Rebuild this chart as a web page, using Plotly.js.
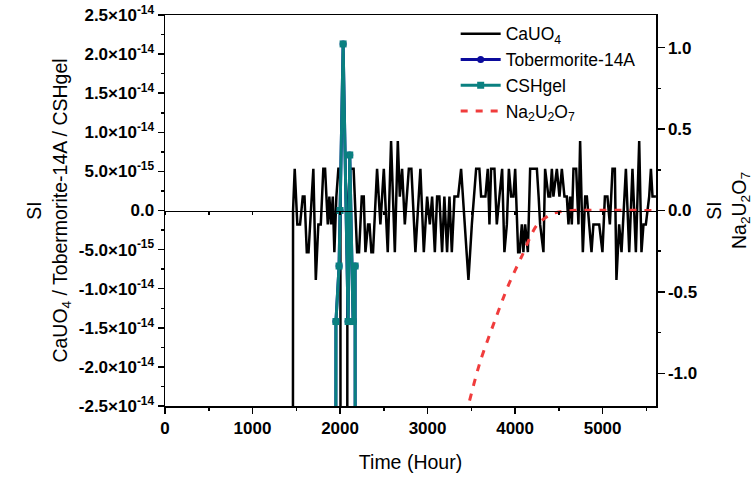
<!DOCTYPE html>
<html>
<head>
<meta charset="utf-8">
<script src="https://cdn.plot.ly/plotly-3.0.1.min.js"></script>
<style>html,body{margin:0;padding:0;background:#fff;}#chart{width:753px;height:477px;}</style>
</head>
<body>
<div id="chart"></div>
<script>
// ---- data ----
const caTime = [1420,1463,1482,1512,1543,1574,1594,1620,1640,1695,1723,1752,1780,1809,1829,1860,1878,1897,1917,1935,1958,1981,2004,2040,2084,2115,2155,2195,2217,2248,2271,2290,2320,2337,2358,2377,2423,2461,2500,2545,2583,2626,2660,2683,2709,2740,2786,2815,2861,2918,2957,2995,3026,3052,3083,3109,3135,3166,3192,3223,3250,3277,3307,3349,3383,3421,3467,3506,3528,3555,3592,3612,3661,3688,3707,3726,3764,3791,3821,3852,3878,3906,3929,3955,3981,4001,4035,4052,4077,4095,4115,4146,4172,4249,4269,4286,4324,4343,4381,4401,4420,4438,4477,4507,4534,4564,4591,4610,4629,4648,4667,4698,4724,4743,4774,4801,4820,4846,4873,4895,4961,4998,5026,5055,5083,5113,5140,5158,5189,5216,5266,5304,5341,5380,5418,5444,5467,5494,5532,5552,5570,5609];
const caSI = [-1e-12,0,5.33e-15,-1.78e-15,-1.78e-15,1.78e-15,1.78e-15,-5.33e-15,-5.33e-15,5.33e-15,-8.88e-15,-1.78e-15,-1.78e-15,5.33e-15,5.33e-15,-1.78e-15,1.78e-15,-1.78e-15,1.78e-15,-5.33e-15,1.78e-15,5.33e-15,5.33e-15,-1e-12,0,5.33e-15,5.33e-15,-5.33e-15,-5.33e-15,1.78e-15,1.78e-15,-5.33e-15,-1.78e-15,-1.78e-15,-5.33e-15,-5.33e-15,5.33e-15,-1.78e-15,5.33e-15,-5.33e-15,8.88e-15,-5.33e-15,8.88e-15,1.78e-15,5.33e-15,-1.78e-15,5.33e-15,5.33e-15,-5.33e-15,5.33e-15,-5.33e-15,1.78e-15,-1.78e-15,1.78e-15,-5.33e-15,1.78e-15,1.78e-15,-5.33e-15,1.78e-15,-5.33e-15,1.78e-15,-5.33e-15,1.78e-15,1.78e-15,5.33e-15,-1.78e-15,-8.88e-15,-1.78e-15,1.78e-15,5.33e-15,5.33e-15,1.78e-15,1.78e-15,5.33e-15,-1.78e-15,5.33e-15,5.33e-15,-1.78e-15,1.78e-15,5.33e-15,-5.33e-15,-1.78e-15,5.33e-15,1.78e-15,1.78e-15,5.33e-15,-5.33e-15,-5.33e-15,-1.78e-15,-5.33e-15,-1.78e-15,-5.33e-15,5.33e-15,5.33e-15,1.78e-15,-1.78e-15,-5.33e-15,5.33e-15,1.78e-15,1.78e-15,5.33e-15,1.78e-15,5.33e-15,1.78e-15,5.33e-15,1.78e-15,1.78e-15,-1.78e-15,1.78e-15,-1.78e-15,5.33e-15,5.33e-15,-1.78e-15,8.88e-15,-5.33e-15,1.78e-15,1.78e-15,-1.78e-15,-5.33e-15,-1.78e-15,-1.78e-15,-5.33e-15,1.78e-15,1.78e-15,-1.78e-15,5.33e-15,5.33e-15,-8.88e-15,-1.78e-15,-5.33e-15,5.33e-15,-5.33e-15,5.33e-15,-5.33e-15,8.88e-15,-5.33e-15,-1.78e-15,-1.78e-15,1.78e-15,5.33e-15,1.78e-15,1.78e-15];

const tobTime = [1900,1953,1989,2000,2035,2092,2111,2149,2172,2220];
const tobSI   = [-1e-12,-1.42e-14,-7.1e-15,0,2.13e-14,-1.42e-14,7.1e-15,-1.42e-14,-7.1e-15,-1e-12];

const cshTime = [1900,1953,1989,2000,2035,2092,2111,2149,2172,2220];
const cshSI   = [-1e-12,-1.42e-14,-7.1e-15,0,2.13e-14,-1.42e-14,7.1e-15,-1.42e-14,-7.1e-15,-1e-12];

const naTime = [3300,3463,3600,3780,3915,4077,4249,4420,4515,4650,5610];
const naSI   = [-1.52,-1.2,-0.93,-0.66,-0.47,-0.28,-0.09,-0.02,-0.008,0,0];

const leftTickVals = [2.5e-14,2.0e-14,1.5e-14,1.0e-14,5.0e-15,0,-5.0e-15,-1.0e-14,-1.5e-14,-2.0e-14,-2.5e-14];
const leftTickText = ['2.5×10<sup>-14</sup>','2.0×10<sup>-14</sup>','1.5×10<sup>-14</sup>','1.0×10<sup>-14</sup>','5.0×10<sup>-15</sup>','0.0','-5.0×10<sup>-15</sup>','-1.0×10<sup>-14</sup>','-1.5×10<sup>-14</sup>','-2.0×10<sup>-14</sup>','-2.5×10<sup>-14</sup>'];
const rightTickVals = [1,0.5,0,-0.5,-1];
const rightTickText = ['1.0','0.5','0.0','-0.5','-1.0'];
const seriesNames = ['CaUO<sub>4</sub>','Tobermorite-14A','CSHgel','Na<sub>2</sub>U<sub>2</sub>O<sub>7</sub>'];

// ---- chart ----
const FONT = 'Liberation Sans, Arial, Helvetica, sans-serif';
const traces = [
  {x: caTime, y: caSI, name: seriesNames[0], mode: 'lines', line: {color: '#000000', width: 2.5}, xaxis: 'x', yaxis: 'y'},
  {x: tobTime, y: tobSI, name: seriesNames[1], mode: 'lines+markers', line: {color: '#0b0b9c', width: 3}, marker: {symbol: 'circle', size: 7, color: '#0b0b9c'}, xaxis: 'x', yaxis: 'y'},
  {x: cshTime, y: cshSI, name: seriesNames[2], mode: 'lines+markers', line: {color: '#0a8080', width: 3}, marker: {symbol: 'square', size: 7, color: '#0a8080'}, xaxis: 'x', yaxis: 'y'},
  {x: naTime, y: naSI, name: seriesNames[3], mode: 'lines', line: {color: '#f03c3c', width: 3, dash: '7px,8px', shape: 'spline', smoothing: 0.8}, xaxis: 'x', yaxis: 'y2'},
  {x: [null], y: [null], xaxis: 'x2', yaxis: 'y', showlegend: false, hoverinfo: 'skip', mode: 'lines'}
];

const tickFont = {family: FONT, size: 17, color: '#000', weight: 'bold'};
const titleFont = {family: FONT, size: 19.5, color: '#000'};

const layout = {
  width: 753, height: 477,
  margin: {l: 165, r: 97, t: 15, b: 71, pad: 0},
  paper_bgcolor: '#fff', plot_bgcolor: '#fff',
  font: {family: FONT, color: '#000'},
  showlegend: true,
  legend: {x: 0.592, y: 0.998, xanchor: 'left', yanchor: 'top', bgcolor: 'rgba(0,0,0,0)', font: {family: FONT, size: 17.5, color: '#000'}, tracegroupgap: 0, itemwidth: 40},
  xaxis: {
    range: [0, 5610], tickmode: 'linear', tick0: 0, dtick: 1000,
    ticks: 'outside', ticklen: 6, tickwidth: 1.5, tickcolor: '#000',
    minor: {tickmode: 'linear', tick0: 0, dtick: 500, ticks: 'outside', ticklen: 3, tickwidth: 1.5, tickcolor: '#000'},
    showline: true, linecolor: '#000', linewidth: 1.5, mirror: true,
    showgrid: false, zeroline: false, tickfont: tickFont,
    title: {text: 'Time (Hour)', font: titleFont, standoff: 18}
  },
  xaxis2: {
    overlaying: 'x', anchor: 'free', position: 0.5, side: 'bottom',
    range: [0, 5610], tickmode: 'linear', tick0: 0, dtick: 500,
    ticks: 'outside', ticklen: 3, tickwidth: 1.5, tickcolor: '#000',
    showticklabels: false, showline: true, linecolor: '#000', linewidth: 1.5,
    showgrid: false, zeroline: false
  },
  yaxis: {
    range: [-2.5e-14, 2.5e-14], tickmode: 'array', tickvals: leftTickVals, ticktext: leftTickText,
    ticks: 'outside', ticklen: 6, tickwidth: 1.5, tickcolor: '#000',
    minor: {tickmode: 'linear', tick0: 0, dtick: 2.5e-15, ticks: 'outside', ticklen: 3, tickwidth: 1.5, tickcolor: '#000'},
    showline: true, linecolor: '#000', linewidth: 1.5,
    showgrid: false, zeroline: false, tickfont: tickFont,
    title: {text: 'SI<br>CaUO<sub>4</sub> / Tobermorite-14A / CSHgel', font: titleFont, standoff: 6}
  },
  yaxis2: {
    overlaying: 'y', side: 'right', anchor: 'x',
    range: [-1.2, 1.2], tickmode: 'array', tickvals: rightTickVals, ticktext: rightTickText,
    ticks: 'outside', ticklen: 7, tickwidth: 1.5, tickcolor: '#000',
    minor: {tickmode: 'linear', tick0: 0, dtick: 0.25, ticks: 'outside', ticklen: 3, tickwidth: 1.5, tickcolor: '#000'},
    showline: true, linecolor: '#000', linewidth: 1.5,
    showgrid: false, zeroline: false, tickfont: tickFont,
    title: {text: 'SI<br>Na<sub>2</sub>U<sub>2</sub>O<sub>7</sub>', font: titleFont, standoff: 28}
  }
};

Plotly.newPlot('chart', traces, layout, {displayModeBar: false, staticPlot: true});
</script>
</body>
</html>
